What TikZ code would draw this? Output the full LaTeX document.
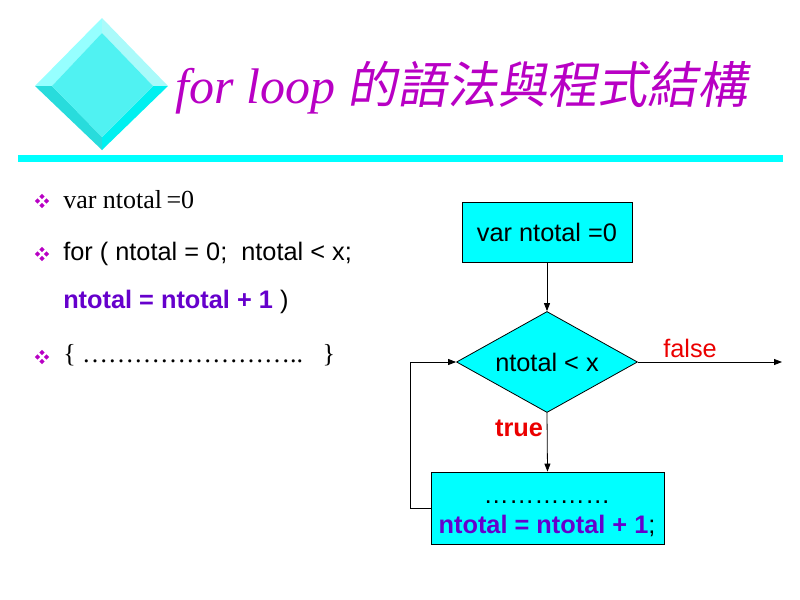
\documentclass[tikz,border=0pt]{standalone}
\usepackage{fontspec}
\setmainfont{Liberation Serif}
\setsansfont{Liberation Sans}
\newfontfamily\arialf{Liberation Sans}
\newfontfamily\cjkt[FakeSlant=0.18]{Noto Sans CJK TC}
\usetikzlibrary{shapes.geometric,arrows.meta}
\definecolor{cyanA}{RGB}{0,255,255}
\definecolor{magA}{RGB}{184,0,196}
\definecolor{purA}{RGB}{102,0,204}
\definecolor{redA}{RGB}{235,0,0}
\definecolor{icC}{RGB}{80,242,242}
\definecolor{icTL}{RGB}{150,255,255}
\definecolor{icTR}{RGB}{170,250,250}
\definecolor{icBL}{RGB}{40,220,220}
\definecolor{icBR}{RGB}{0,240,240}
\tikzset{
  txt/.style={anchor=base west, inner sep=0pt},
  ctxt/.style={anchor=base, inner sep=0pt, font=\arialf\fontsize{19}{23}\selectfont},
  flowbox/.style={draw=black, line width=0.6pt, fill=cyanA, inner sep=0pt, font=\arialf\fontsize{19}{23}\selectfont},
  flowdia/.style={diamond, draw=black, line width=0.6pt, fill=cyanA, inner sep=0pt, font=\arialf\fontsize{19}{23}\selectfont},
  conn/.style={draw=black, line width=0.6pt, -{Triangle[length=6pt,width=4.5pt]}},
  lbl/.style={inner sep=0pt, text=redA, font=\arialf\fontsize{19}{23}\selectfont},
  bulletdot/.style={fill=magA, draw=none}
}
\newcommand{\mybullet}[2]{%
  \foreach \dx/\dy in {0/-4.5,0/4.5,-4.5/0,4.5/0}{
    \fill[bulletdot] (#1+\dx,#2+\dy) +(-2.6,0) -- +(0,-2.6) -- +(2.6,0) -- +(0,2.6) -- cycle;
  }}
\begin{document}
\begin{tikzpicture}[x=0.75pt,y=-0.75pt]
\useasboundingbox (0,0) rectangle (800,600);
% icon diamond
\coordinate (iT) at (102,18);
\coordinate (iB) at (102,150);
\coordinate (iL) at (35,86);
\coordinate (iR) at (168,86);
\coordinate (jT) at (102,33);
\coordinate (jB) at (102,137);
\coordinate (jL) at (52,86);
\coordinate (jR) at (153,86);
\fill[icTL] (iL) -- (iT) -- (jT) -- (jL) -- cycle;
\fill[icTR] (iT) -- (iR) -- (jR) -- (jT) -- cycle;
\fill[icBL] (iL) -- (jL) -- (jB) -- (iB) -- cycle;
\fill[icBR] (iR) -- (iB) -- (jB) -- (jR) -- cycle;
\fill[icC] (jL) -- (jT) -- (jR) -- (jB) -- cycle;
% title
\node[txt, text=magA] (title) at (175,103) {\fontsize{37.5}{40}\selectfont\itshape for loop \cjkt 的語法與程式結構};
\fill[cyanA] (18,155) rectangle (783,162);
% left text
\mybullet{42}{201}
\node[txt] (l1) at (63,208) {\fontsize{19.5}{23}\selectfont var ntotal\,=0};
\mybullet{42}{254}
\node[txt] (l2) at (63,260) {\arialf\fontsize{19}{23}\selectfont for ( ntotal = 0;\ \ ntotal < x;};
\node[txt] (l3) at (63,308) {\arialf\fontsize{19}{23}\selectfont \textcolor{purA}{\bfseries ntotal = ntotal + 1} )};
\mybullet{42}{357}
\node[txt] (l4) at (63,362) {\fontsize{19.5}{23}\selectfont \{ ……………………..\ \ \ \}};
% flowchart
\node[flowbox, minimum width=127.5pt, minimum height=45pt] (b1) at (547,232) {var ntotal =0};
\node[flowdia, minimum width=135.75pt, minimum height=75.75pt] (d) at (547,362) {\makebox[0pt]{ntotal < x}};
\node[flowbox, minimum width=174.75pt, minimum height=54pt] (b2) at (547.5,508) {};
\node[ctxt] (b2a) at (547,503) {……………};
\node[ctxt] (b2b) at (547,533) {\textcolor{purA}{\bfseries ntotal = ntotal + 1};};
\coordinate (out) at (782,362);
\draw[conn] (b1.south) -- (d.north);
\draw[conn] (d.south) -- (b2.north);
\draw[conn] (d.east) -- (out);
\draw[conn] (b2.west) -- ++(-20,0) |- (d.west);
\node[lbl] (fl) at (690,348) {false};
\node[lbl, font=\arialf\bfseries\fontsize{19}{23}\selectfont] (tl) at (519,428) {true};
\end{tikzpicture}
\end{document}
